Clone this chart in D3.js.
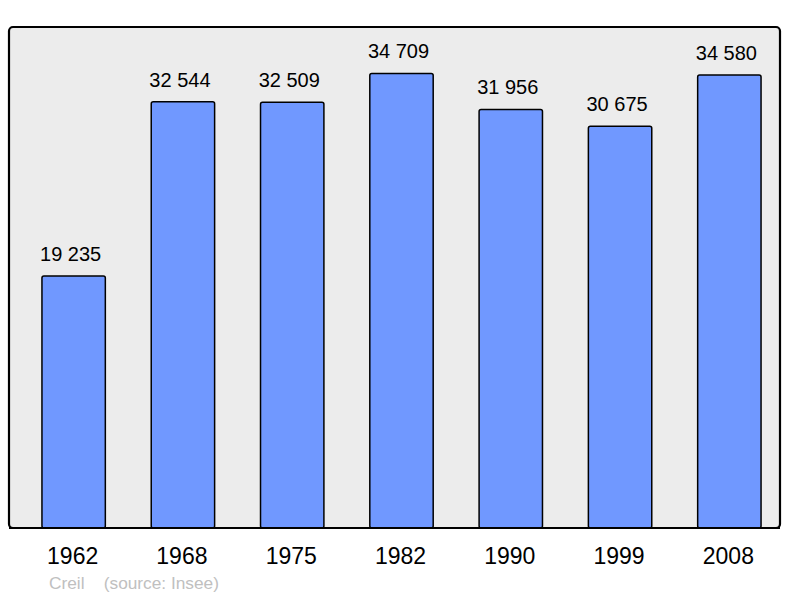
<!DOCTYPE html>
<html>
<head>
<meta charset="utf-8">
<script src="https://d3js.org/d3.v7.min.js"></script>
<style>
body { margin: 0; background: #fff; }
text { font-family: "Liberation Sans", Arial, sans-serif; }
</style>
</head>
<body>
<svg width="800" height="598"></svg>
<script>
// population by census year
var years = ["1962", "1968", "1975", "1982", "1990", "1999", "2008"];
var population = [19235, 32544, 32509, 34709, 31956, 30675, 34580];
var town = "Creil";
var source = "(source: Insee)";

var svg = d3.select("svg");

// panel bounds
var pLeft = 9, pRight = 780, pTop = 27, pBottom = 528;

// x scale for bars
var x = d3.scaleBand()
	.domain(years)
	.range([19, 784])
	.paddingInner(0.42)
	.paddingOuter(0.21);

// y scale
var y = d3.scaleLinear()
	.domain([0, 38250])
	.range([pBottom, pTop]);

// gray panel
svg.append("rect")
	.attr("x", pLeft)
	.attr("y", pTop)
	.attr("width", pRight - pLeft)
	.attr("height", pBottom - pTop)
	.attr("rx", 4)
	.attr("fill", "#ececec")
	.attr("stroke", "#000")
	.attr("stroke-width", 2.2);

// bars
svg.append("g")
	.selectAll("rect")
	.data(population)
	.enter().append("rect")
		.attr("x", function(d, i) { return x(years[i]); })
		.attr("y", function(d) { return y(d); })
		.attr("width", x.bandwidth())
		.attr("height", function(d) { return pBottom - y(d); })
		.attr("rx", 2)
		.attr("fill", "#7098ff")
		.attr("stroke", "#000")
		.attr("stroke-width", 1.5);

// redraw the bottom edge of panel over the bars
svg.append("line")
	.attr("x1", pLeft)
	.attr("x2", pRight)
	.attr("y1", pBottom)
	.attr("y2", pBottom)
	.attr("stroke", "#000")
	.attr("stroke-width", 2.2);

// value labels (sit a little left of bar centre)
svg.append("g")
	.selectAll("text")
	.data(population)
	.enter().append("text")
		.attr("x", function(d, i) { return x(years[i]) + x.bandwidth() / 2 - 3; })
		.attr("y", function(d) { return y(d) - 15; })
		.attr("text-anchor", "middle")
		.attr("font-size", 20)
		.attr("fill", "#000")
		.text(function(d) { return d3.format(",")(d).replace(",", " "); });

// year labels
svg.append("g")
	.selectAll("text")
	.data(years)
	.enter().append("text")
		.attr("x", function(d) { return x(d) + x.bandwidth() / 2 - 1; })
		.attr("y", 564)
		.attr("text-anchor", "middle")
		.attr("font-size", 23)
		.attr("fill", "#000")
		.text(function(d) { return d; });

// caption
svg.append("text")
	.attr("x", 49)
	.attr("y", 589)
	.attr("font-size", 17.3)
	.attr("fill", "#c0c0c0")
	.attr("xml:space", "preserve")
	.text(town + "    " + source);
</script>
</body>
</html>
